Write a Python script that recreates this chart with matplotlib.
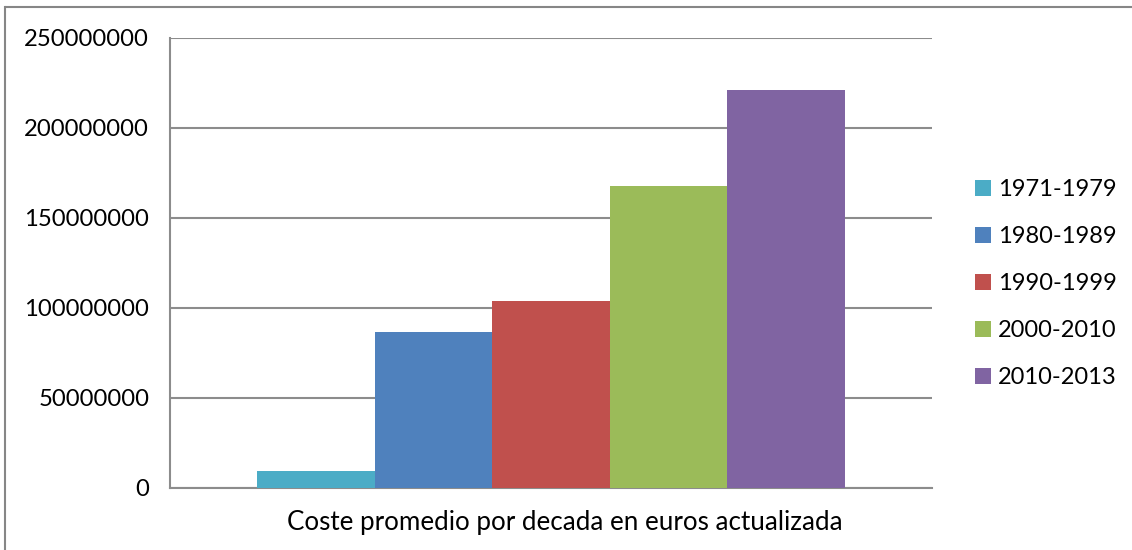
import matplotlib.pyplot as plt
from matplotlib.lines import Line2D
import numpy as np

plt.rcParams['font.family'] = ['Lato', 'DejaVu Sans']

periods = ["1971-1979", "1980-1989", "1990-1999", "2000-2010", "2010-2013"]
costs = [9300000, 86500000, 103700000, 167800000, 221000000]
colors = ["#4bacc6", "#4f81bd", "#c0504d", "#9bbb59", "#8064a2"]
category = "Coste promedio por decada en euros actualizada"
yticks = [0, 50000000, 100000000, 150000000, 200000000, 250000000]

fig = plt.figure(figsize=(11.32, 5.5), dpi=100)
ax = fig.add_axes([170/1132, 62/550, 762/1132, 450/550])

# outer chart border: only the left and top edges show in the crop
x0, y0 = 5/1132, 1 - 7/550
fig.add_artist(Line2D([x0, x0], [-0.05, y0], transform=fig.transFigure,
                      color="#868686", lw=1.5, solid_capstyle='projecting'))
fig.add_artist(Line2D([x0, 1.05], [y0, y0], transform=fig.transFigure,
                      color="#868686", lw=1.5, solid_capstyle='butt'))

w = 117.6/762
idx = np.arange(len(periods))
for i in idx:
    ax.bar(0.5 + (i - 2) * w, costs[i], width=w, color=colors[i],
           label=periods[i], zorder=3)

ax.set_xlim(0, 1)
ax.set_ylim(0, 250000000)
ax.set_yticks(yticks)
ax.set_yticklabels([str(v) for v in yticks], fontsize=17.2)
ax.set_xticks([0.5 + 14/762])
ax.set_xticklabels([category], fontsize=18.7)
ax.tick_params(axis='y', length=0, pad=15)
ax.tick_params(axis='x', length=0, pad=16)
ax.grid(axis='y', color="#8c8c8c", lw=1.5, zorder=0)
for s in ['top', 'right']:
    ax.spines[s].set_visible(False)
for s in ['left', 'bottom']:
    ax.spines[s].set_color("#8c8c8c")
    ax.spines[s].set_linewidth(1.5)

ax.legend(loc='upper left', bbox_to_anchor=(966/1132, 1 - 170/550),
          bbox_transform=fig.transFigure, frameon=False,
          fontsize=17, handlelength=0.65, handleheight=0.65,
          handletextpad=0.3, labelspacing=1.1, borderaxespad=0)

fig.savefig("out.png", dpi=100)
